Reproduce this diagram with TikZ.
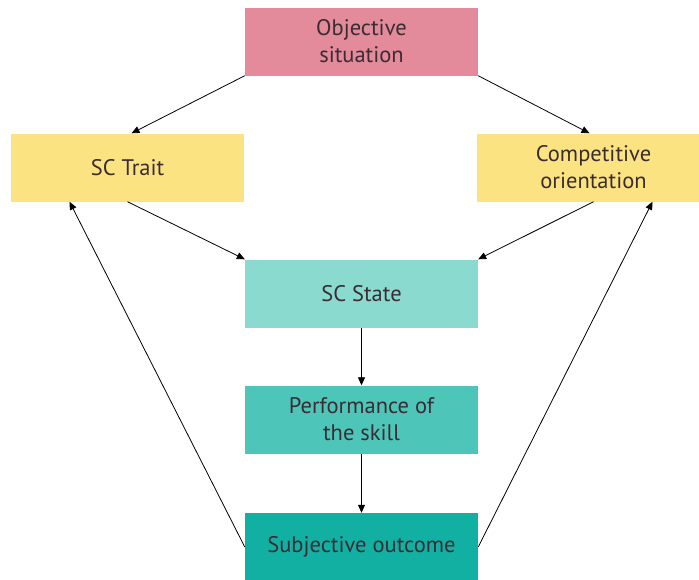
\documentclass[tikz,border=0pt]{standalone}
\usepackage{fontspec}
\setmainfont{PT Sans}
\usetikzlibrary{arrows.meta}
\definecolor{objpink}{HTML}{E38A9B}
\definecolor{traityellow}{HTML}{FCE381}
\definecolor{statelight}{HTML}{8ADAD0}
\definecolor{perfmid}{HTML}{4DC6B9}
\definecolor{subjdark}{HTML}{12B0A2}
\definecolor{labeltext}{HTML}{3B2C34}
\begin{document}
\begin{tikzpicture}[x=1pt,y=-1pt,
  box/.style={rectangle, minimum width=233pt, minimum height=68pt, inner sep=0pt,
    align=center, text=labeltext, font=\fontsize{22.5}{27}\selectfont},
  link/.style={draw=black, line width=0.8pt, -{Triangle[length=8pt,width=7pt]}}]
\useasboundingbox (0,0) rectangle (699,579);
\node[box, fill=objpink]     (obj)   at (361.5,41.5)  {Objective\\situation};
\node[box, fill=traityellow] (trait) at (127.5,167.5) {SC Trait};
\node[box, fill=traityellow] (comp)  at (593.5,167.5) {Competitive\\orientation};
\node[box, fill=statelight]  (state) at (361.5,293.5) {SC State};
\node[box, fill=perfmid]     (perf)  at (361.5,419.5) {Performance of\\the skill};
\node[box, fill=subjdark]    (subj)  at (361.5,547)   {Subjective outcome};
\draw[link] (obj.south west) -- ([xshift=4pt]trait.north);
\draw[link] (obj.south east) -- ([xshift=-4pt]comp.north);
\draw[link] (trait.south) -- (state.north west);
\draw[link] (comp.south) -- (state.north east);
\draw[link] (state.south) -- (perf.north);
\draw[link] (perf.south) -- (subj.north);
\draw[link] (subj.west) -- ([xshift=-58pt]trait.south);
\draw[link] (subj.east) -- ([xshift=59pt]comp.south);
\end{tikzpicture}
\end{document}
